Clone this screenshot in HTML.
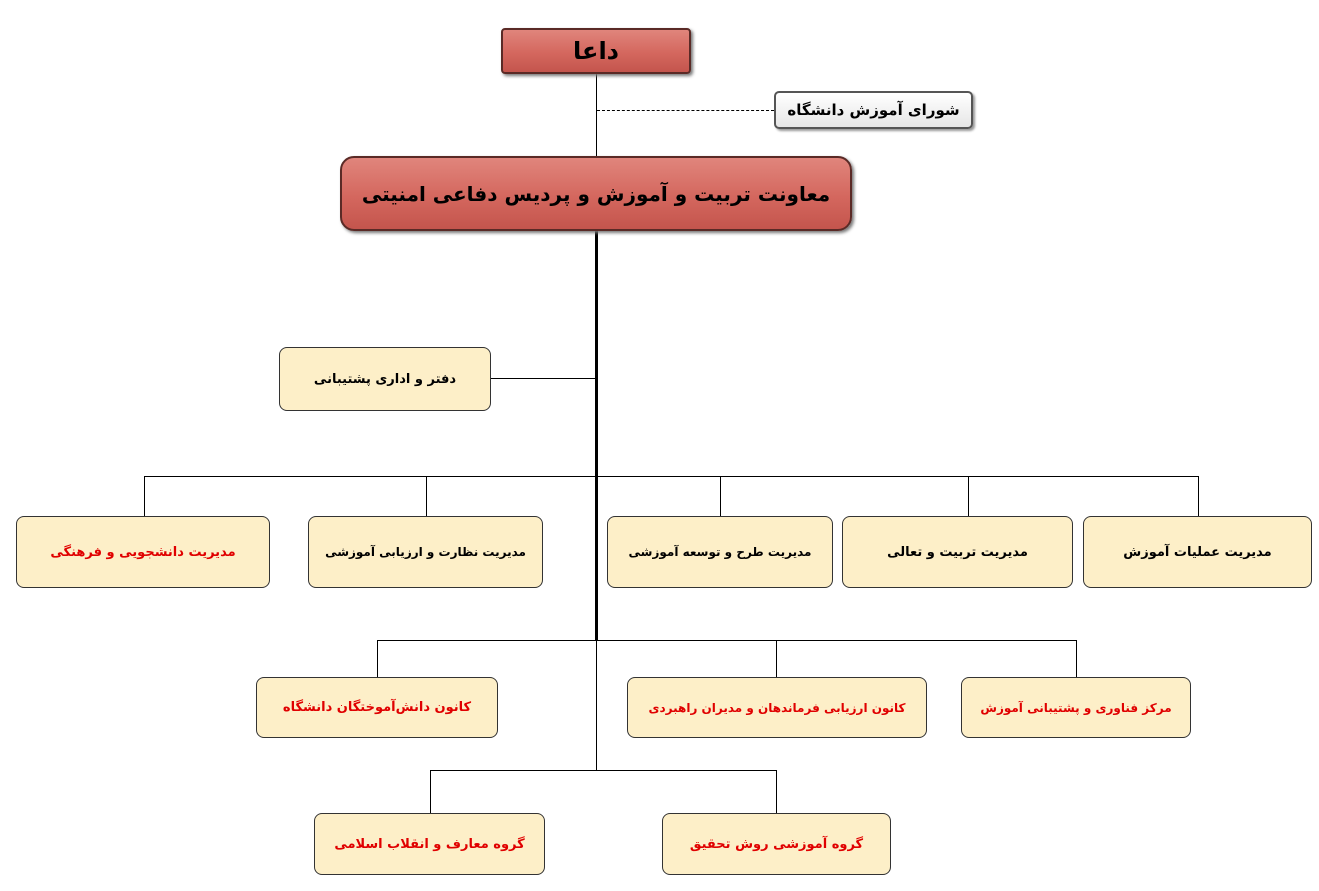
<!DOCTYPE html>
<html><head><meta charset="utf-8"><style>
body{margin:0;width:1319px;height:891px;background:#fff;position:relative;overflow:hidden;font-family:"DejaVu Sans","Liberation Sans",sans-serif;}
.b{position:absolute;box-sizing:border-box;display:flex;align-items:center;justify-content:center;direction:rtl;font-weight:bold;text-align:center;white-space:nowrap;}
.y{background:#fdefc8;border:1px solid #333;border-radius:8px;font-size:13px;color:#000;}
.r{color:#e00000;}
.red{background:linear-gradient(#e0857c,#d4675e 55%,#c4554d);border:2px solid #5a2a26;box-shadow:2px 2px 3px #777;color:#000;}
.l{position:absolute;background:#000;}
</style></head><body>
<div class="l" style="left:596px;top:74px;width:1px;height:82px"></div>
<div style="position:absolute;left:597px;top:110px;width:177px;border-top:1px dashed #000"></div>
<div class="l" style="left:595px;top:231px;width:3px;height:410px"></div>
<div class="l" style="left:596px;top:640px;width:1px;height:130px"></div>
<div class="l" style="left:491px;top:378px;width:105px;height:1px"></div>
<div class="l" style="left:144px;top:476px;width:1055px;height:1px"></div>
<div class="l" style="left:144px;top:476px;width:1px;height:41px"></div>
<div class="l" style="left:426px;top:476px;width:1px;height:41px"></div>
<div class="l" style="left:720px;top:476px;width:1px;height:41px"></div>
<div class="l" style="left:968px;top:476px;width:1px;height:41px"></div>
<div class="l" style="left:1198px;top:476px;width:1px;height:41px"></div>
<div class="l" style="left:377px;top:640px;width:700px;height:1px"></div>
<div class="l" style="left:377px;top:640px;width:1px;height:37px"></div>
<div class="l" style="left:776px;top:640px;width:1px;height:37px"></div>
<div class="l" style="left:1076px;top:640px;width:1px;height:37px"></div>
<div class="l" style="left:430px;top:770px;width:347px;height:1px"></div>
<div class="l" style="left:430px;top:770px;width:1px;height:43px"></div>
<div class="l" style="left:776px;top:770px;width:1px;height:43px"></div>

<div class="b red" style="left:501px;top:28px;width:190px;height:46px;border-radius:4px;font-size:24px">داعا</div>
<div class="b" style="left:774px;top:91px;width:199px;height:38px;border:2px solid #555;border-radius:5px;background:linear-gradient(#fff,#e6e6e6);font-size:15px;box-shadow:2px 2px 2px #999">شورای آموزش دانشگاه</div>
<div class="b red" style="left:340px;top:156px;width:512px;height:75px;border-radius:14px;font-size:20px">معاونت تربیت و آموزش و پردیس دفاعی امنیتی</div>

<div class="b y" style="left:279px;top:347px;width:212px;height:64px">دفتر و اداری پشتیبانی</div>

<div class="b y r" style="left:16px;top:516px;width:254px;height:72px">مدیریت دانشجویی و فرهنگی</div>
<div class="b y" style="left:308px;top:516px;width:235px;height:72px;font-size:12px">مدیریت نظارت و ارزیابی آموزشی</div>
<div class="b y" style="left:607px;top:516px;width:226px;height:72px;font-size:12px">مدیریت طرح و توسعه آموزشی</div>
<div class="b y" style="left:842px;top:516px;width:231px;height:72px">مدیریت تربیت و تعالی</div>
<div class="b y" style="left:1083px;top:516px;width:229px;height:72px">مدیریت عملیات آموزش</div>

<div class="b y r" style="left:256px;top:677px;width:242px;height:61px">کانون دانش‌آموختگان دانشگاه</div>
<div class="b y r" style="left:627px;top:677px;width:300px;height:61px;font-size:12px">کانون ارزیابی فرماندهان و مدیران راهبردی</div>
<div class="b y r" style="left:961px;top:677px;width:230px;height:61px;font-size:12px">مرکز فناوری و پشتیبانی آموزش</div>

<div class="b y r" style="left:314px;top:813px;width:231px;height:62px">گروه معارف و انقلاب اسلامی</div>
<div class="b y r" style="left:662px;top:813px;width:229px;height:62px">گروه آموزشی روش تحقیق</div>
</body></html>
